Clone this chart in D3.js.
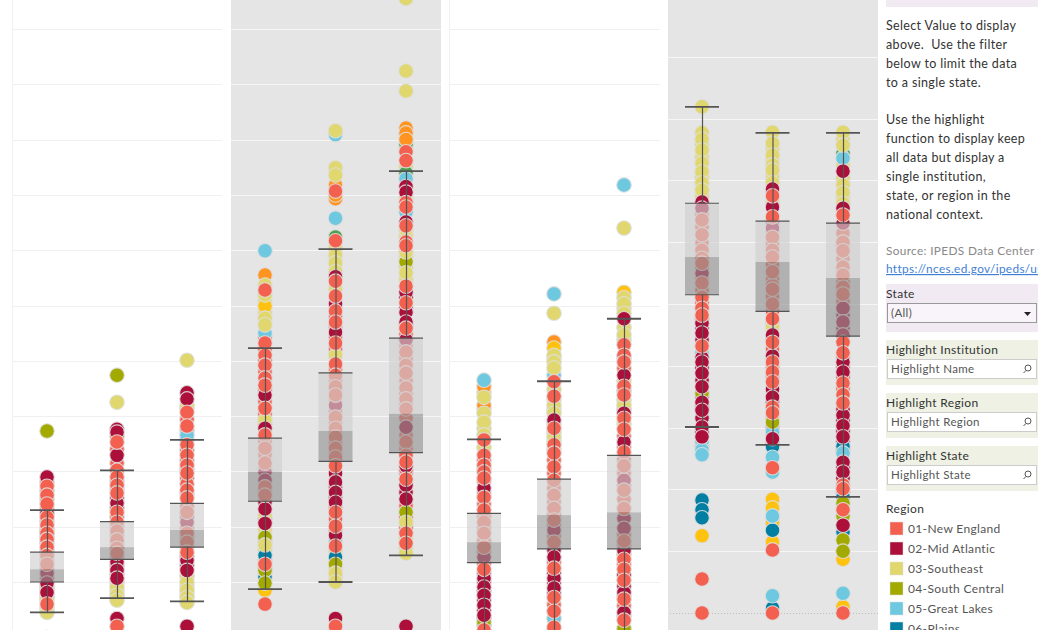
<!DOCTYPE html>
<html><head><meta charset="utf-8">
<script src="https://cdnjs.cloudflare.com/ajax/libs/d3/7.8.5/d3.min.js"></script>
<style>html,body{margin:0;padding:0;background:#fff;overflow:hidden}svg{display:block}text{font-family:Lato,"Noto Sans",sans-serif}</style>
</head><body><svg id="c" width="1050" height="630"></svg>
<script>
const regionNames=["01-New England","02-Mid Atlantic","03-Southeast","04-South Central","05-Great Lakes","06-Plains"];
const regionColors=["#F4604F","#AD0F3B","#E0D86E","#A2AA00","#6EC9E0","#007FA3","#FFC20E","#FF9421","#4E9F50"];

const values11=[37.3,29,27.3,25.7,24.1,22.4,21.7,20.3,18.8,17.7,16.3,14.8,13.2,11.6,9.8,8.1,6,4.5,7.1,8.9,0];
const regions11=[4,2,1,1,1,2,1,1,1,1,1,1,1,2,2,2,1,3,3,3,3];
const values12=[47.4,42.5,37.6,35.3,37.1,32.9,30.2,29,27.5,26.1,24.3,22.6,20.8,19.2,17.6,16.1,15.2,13.6,12.1,10.7,9.1,7.6,6.7,3.4,2];
const regions12=[4,3,2,1,2,2,1,1,1,1,2,1,1,1,1,1,1,2,2,2,3,3,3,2,1];
const values13=[50.1,44.2,43.1,42,40.7,38.2,36.6,34.8,32.9,31.1,29.7,26.6,25.2,22.6,20.8,18.8,17.2,15.4,13.9,12.1,10,8.5,7.2,6.3,2];
const regions13=[3,2,2,3,1,1,5,1,1,1,1,1,1,1,2,1,1,1,2,2,3,3,3,3,2];

const values21=[69.9,65.5,63.7,61.9,62.8,59.9,57.7,56.5,55,53.2,51,49.2,46.9,45.6,43.8,41.4,39.3,37.8,36.6,34.2,31.5,29.9,28.4,27.2,25.7,23.2,22.1,20.6,18.1,16.7,14.8,13.2,12.1,10.9,9.8,8.5,6,0];
const regions21=[5,8,3,3,1,7,3,3,5,1,1,1,1,1,2,1,3,2,1,1,1,2,2,1,1,2,3,2,4,3,6,1,4,6,4,7,1,3];
const values22=[91.6,90.9,84.9,83.6,81.8,79.3,80,80.7,75.8,72.4,71.7,69.1,67.7,66.1,65.2,64.4,61.7,60.3,59,57,55.2,53.2,51,49.4,47.4,45.3,43.8,42,39.8,37.8,36.2,34.2,32.6,31,28.1,26.2,24.4,22.6,20.1,18.5,16.5,17.4,14.5,13.2,11.6,10,3.4,2];
const regions22=[3,5,3,3,8,8,8,1,5,9,1,3,3,3,2,1,1,2,1,1,2,1,3,1,1,1,1,2,1,1,1,1,1,1,2,2,2,1,1,2,1,5,6,4,3,3,2,1];
const values23=[115.5,102.4,98.8,92.1,91.2,90,89.1,87.8,86.2,84,82.9,81.5,80.5,78.6,77.8,76.9,75.1,74.4,73.7,71.5,70.8,69.7,67.9,65.9,63.5,62.4,60.5,58.8,57,55.9,53.8,51.6,49.2,47.8,45.1,43.1,41.3,38,35.3,32.9,31.7,31,28.6,27.5,25,22.6,20.8,18.8,17,15.2,2];
const regions23=[3,3,3,8,8,8,9,1,1,9,5,2,2,1,1,5,2,1,3,1,1,3,4,3,1,2,1,2,2,1,2,1,1,1,1,1,1,2,1,1,1,2,1,2,2,4,3,1,1,3,2];

const values31=[46.5,45.3,43.4,42,40.5,38.9,36.6,35.7,32.9,31.1,29.9,28.8,27,25.3,23,20.8,18.8,16.3,14.5,12.3,10.7,9.1,7.6,5.8,4,2.7,2.2,1.3];
const regions31=[5,8,3,8,3,3,3,1,1,1,1,1,2,1,1,1,1,1,2,1,2,2,2,2,2,4,6,1];
const values32=[62.1,58.6,53.4,52.3,51,49.8,48.7,47.4,46.2,43.6,42,40.5,39.3,37.8,36.2,34.8,33.3,30.8,28.4,25.7,23.3,21.2,19.4,17.2,14.5,12.5,10.7,8.9,7.2,4.7,3.4,1.8];
const regions32=[5,3,8,7,3,3,3,5,1,1,3,3,2,1,3,1,1,1,1,1,1,1,2,1,2,1,2,2,1,1,5,1];
const values33=[81.8,74,62.4,61.4,60.3,57.6,58.6,54.7,52.9,51,49.8,47.4,45.4,43.8,42,40.5,39.6,37.6,35.3,33.5,31,28.4,26.6,23.3,19.7,17.4,15.7,14.1,12.3,10.3,8.1,6.9,4.5,3.1,1.6];
const regions33=[5,3,7,3,3,2,3,3,1,1,1,2,1,1,3,2,1,1,2,1,1,2,1,1,2,1,2,1,1,1,2,1,2,1,4];

const values41=[81.9,77.7,76.7,74.9,72.8,71.4,69.6,68.4,66.5,65.5,63.6,61.2,58.7,57.4,56.6,55,53.4,51.1,49.3,48.2,46.9,45.3,43.2,42.1,41.3,40.6,38.8,36.6,35.6,34.1,32.8,30.1,28.5,27.7,26.4,25.6,18.3,16.7,15.4,12.5,5.5,0];
const regions41=[3,3,3,3,3,3,3,3,2,2,1,1,1,1,1,2,1,1,1,1,2,2,1,5,2,2,2,2,4,2,2,2,2,5,5,5,6,6,6,7,1,1];
const values42=[77.8,76,74.1,72.5,71.7,69.6,68.6,67.5,65.7,64.1,62.3,60.8,58.7,57.6,55.2,52.4,50,47.6,46.3,45,43.8,41.6,40.6,39,37.4,34.9,33.3,32.4,30.9,29.3,28.2,26.9,25.2,22.8,23.5,18.4,17,15.7,14.6,13.4,11.5,10.2,2.8,0.8,0];
const regions42=[3,3,3,3,3,3,2,1,2,1,2,1,1,1,1,1,1,1,3,2,1,2,1,1,1,2,1,1,4,5,2,6,5,5,1,7,7,5,7,6,7,1,5,6,1];
const values43=[77.8,75.7,74.4,73.6,71.5,69.3,68,66.3,65.5,64.4,63.1,60,58.6,56,54.7,52.7,51.6,49.3,47.1,45,43.8,42.1,40.6,39,37.2,35.3,34,32,30.3,28.5,27,25.9,24.4,22.8,20.7,20.1,18.8,17.8,16.7,15.7,14.2,13.1,11.8,10,8.7,3.2,1,0];
const regions43=[3,3,9,5,2,3,3,3,2,1,2,1,1,1,1,1,1,2,2,2,1,1,2,2,1,1,1,2,2,2,6,5,2,2,1,1,6,4,1,4,2,6,4,4,7,5,7,1];

// marks that sit mostly behind the others, seen only as slivers at the column edges
const behindYellow11=[5.2,6.8,7.6,9];
const behindRed11=[28.1,26.5,24.9,23.2,21,19.5,19,18.2,17,15.5,14];
const behindCrimson11=[12.4,10.7];
const behindYellow12=[7.1,8.3,9.9];
const behindRed12=[36.3,34,31.5,28.2,26.8,21.7,20,18.4,16.8];
const behindCrimson12=[25.2,23.4,14.4,12.9,11.4];
const behindYellow13=[9.2,11,7.8];
const behindRed13=[41.4,39.4,37.4,35.7,33.8,32,30.4,28.8,27.7,25.9,23.7,19.7,18,16.3];
const behindCrimson13=[21.7,14.6,13];
const behindYellow21=[60.8,58.8,19.4,15.7,11.5];
const behindRed21=[54.2,52.1,50.1,48,44.7,42.6,40.3,38.5,35.4,33,30.6,17.4,14,12.6];
const behindCrimson21=[26.5,24.4,21.4];
const behindYellow22=[70.4,68.4,63,15.5,12.4,10.8];
const behindRed22=[58,56.1,54.2,52.1,48.4,46.4,44.6,42.9,40.9,38.8,37,35.2,33.4,31.8,23.5,21.4,19.3];
const behindCrimson22=[29.6,27.1,25.3];
const behindYellow23=[88.5,85.1,83.5,79.5,72.6,68.8,66.9,64.7,17.9,16.1];
const behindRed23=[54.8,52.7,50.4,48.5,46.4,44.1,42.2,39.6,36.6,34.1,30.3,23.8,21.7,19.8];
const behindCrimson23=[61.5,59.6,56.4,29.8,26.2];
const behindYellow31=[44.3,41.3,37.8,34.3];
const behindRed31=[32,30.5,28.2,26.1,24.1,21.9,19.8,17.5,15.4,13.4];
const behindCrimson31=[11.5,9.9,8.3,6.7,4.9,3.4];
const behindYellow32=[50.4,44.8,43,41.2,38.5,37,35.5,34];
const behindRed32=[32,29.6,27,24.5,22.2,20.3,18.3,13.5,5.9];
const behindCrimson32=[15.8,11.6,9.8,8];
const behindYellow33=[59.5,56,53.8,50.4,46.4,42.9,38.6];
const behindRed33=[48.6,44.6,41.2,36.4,34.4,32.2,29.7,27.5,25,18.5,16.6,15,13.2,7.5,5.7,3.8];
const behindCrimson33=[21.5,11.2,9.2];
const behindYellow41=[75.8,73.8,70.5,67.4];
const behindRed41=[64.5,62.4,59.9,58,55.8,54.2,52.2,50.2];
const behindCrimson41=[47.5,46.1,44.2,39.7,37.7,35.1,33.4,31.5,29.3,26.9];
const behindYellow42=[75,73.3,70.6,66.6];
const behindRed42=[61.5,59.7,56.4,54,53,51.2,48.8,46.9,44.4,42.7,39.8,38.2,31.7,30];
const behindCrimson42=[63.2,36.2,34.1,27.5];
const behindYellow43=[76.6,72.5,70.4,67.2];
const behindRed43=[61.5,59.3,57.3,55.4,53.7,50.4,41.4,39.8,38.1,36.3];
const behindCrimson43=[48.2,46,33,31.2,29.4,27.8,26.4,23.6,21.8,19.5];

// capTop, boxTop, median, boxBottom, capBottom
const stats11=[23,15.4,12.3,10,4.5];
const stats12=[30.2,20.9,16.3,14.1,7.1];
const stats13=[35.7,24.2,19.4,16.3,6.5];
const stats21=[52.3,36,29.9,24.6,8.7];
const stats22=[70.2,47.8,37.3,31.8,10];
const stats23=[84.3,54.1,40.4,33.4,14.8];
const stats31=[35.8,22.4,17.2,13.5,-2];
const stats32=[46.3,28.6,22.1,16,-2];
const stats33=[57.6,32.9,22.6,16,-2];
const stats41=[81.9,66.3,57.6,51.5,30.1];
const stats42=[77.7,63.4,56.8,48.8,27.2];
const stats43=[77.7,63.1,54.2,44.8,18.8];

const columnNames=["a","b","c"];
const gridTicks=d3.range(0,111,10);
function col(v,r,y,m,c,s){
  const front=v.map((d,k)=>({v:d,r:r[k]})).sort((a,b)=>b.r-a.r);
  const back=y.map(d=>({v:d,r:3})).concat(c.map(d=>({v:d,r:2})),m.map(d=>({v:d,r:1})));
  return {pts:back.concat(front),s};
}
const panels=[
 {px:[13,222],cx:[47,187],bg:null,grid:"#f0f0f0",y:[637.3,29],dom:[0,110],cols:[col(values11,regions11,behindYellow11,behindRed11,behindCrimson11,stats11),col(values12,regions12,behindYellow12,behindRed12,behindCrimson12,stats12),col(values13,regions13,behindYellow13,behindRed13,behindCrimson13,stats13)]},
 {px:[231,441],cx:[265,406],bg:"#e5e5e5",grid:"#f6f6f6",y:[637.3,29],dom:[0,110],cols:[col(values21,regions21,behindYellow21,behindRed21,behindCrimson21,stats21),col(values22,regions22,behindYellow22,behindRed22,behindCrimson22,stats22),col(values23,regions23,behindYellow23,behindRed23,behindCrimson23,stats23)]},
 {px:[450,660],cx:[484,624],bg:null,grid:"#f0f0f0",y:[637.3,29],dom:[0,110],cols:[col(values31,regions31,behindYellow31,behindRed31,behindCrimson31,stats31),col(values32,regions32,behindYellow32,behindRed32,behindCrimson32,stats32),col(values33,regions33,behindYellow33,behindRed33,behindCrimson33,stats33)]},
 {px:[668,878],cx:[702,843],bg:"#e5e5e5",grid:"#f6f6f6",y:[613,-5],dom:[0,100],zero:true,cols:[col(values41,regions41,behindYellow41,behindRed41,behindCrimson41,stats41),col(values42,regions42,behindYellow42,behindRed42,behindCrimson42,stats42),col(values43,regions43,behindYellow43,behindRed43,behindCrimson43,stats43)]}
];
const svg=d3.select("#c");
const color=d3.scaleOrdinal().domain(d3.range(1,10)).range(regionColors);

panels.forEach(p=>{
  const g=svg.append("g");
  const y=d3.scaleLinear().domain(p.dom).range(p.y);
  const x=d3.scalePoint().domain(columnNames).range(p.cx);
  if(p.bg) g.append("rect").attr("x",p.px[0]).attr("y",0).attr("width",p.px[1]-p.px[0]).attr("height",630).attr("fill",p.bg);
  else g.append("line").attr("x1",p.px[0]-.5).attr("x2",p.px[0]-.5).attr("y1",0).attr("y2",630).attr("stroke",p.grid);
  g.selectAll("line.g").data(gridTicks.filter(t=>t>0&&t<p.dom[1]+1)).join("line").attr("class","g")
    .attr("x1",p.px[0]).attr("x2",p.px[1]).attr("y1",d=>Math.round(y(d))+.5).attr("y2",d=>Math.round(y(d))+.5)
    .attr("stroke",p.grid).attr("stroke-width",1);
  if(p.zero) g.append("line").attr("x1",p.px[0]+2).attr("x2",p.px[1]).attr("y1",Math.round(y(0))+.5).attr("y2",Math.round(y(0))+.5)
    .attr("stroke","#bdbdbd").attr("stroke-dasharray","1 2");
  p.cols.forEach((c,i)=>{
    const cx=x(columnNames[i]);
    g.append("g").selectAll("circle").data(c.pts).join("circle")
      .attr("cx",cx).attr("cy",d=>y(d.v)).attr("r",7.3)
      .attr("fill",d=>color(d.r)).attr("stroke","#dfdfdf").attr("stroke-opacity",.9).attr("stroke-width",1.1);
  });
  p.cols.forEach((c,i)=>{
    const cx=x(columnNames[i]);const s=c.s;const hw=17;
    g.append("rect").attr("x",cx-hw).attr("width",hw*2).attr("y",y(s[1])).attr("height",y(s[2])-y(s[1]))
      .attr("fill","#d0d0d0").attr("fill-opacity",.65);
    g.append("rect").attr("x",cx-hw).attr("width",hw*2).attr("y",y(s[2])).attr("height",y(s[3])-y(s[2]))
      .attr("fill","#929292").attr("fill-opacity",.635);
    [[s[0],s[1]],[s[3],s[4]]].forEach(w=>g.append("line").attr("x1",cx+.5).attr("x2",cx+.5).attr("y1",y(w[0])).attr("y2",y(w[1])).attr("stroke","#555").attr("stroke-width",1.2));
    [s[1],s[3]].forEach(v=>g.append("line").attr("x1",cx-hw).attr("x2",cx+hw).attr("y1",y(v)).attr("y2",y(v)).attr("stroke","#555").attr("stroke-width",1.2));
    [s[0],s[4]].forEach(v=>g.append("line").attr("x1",cx-hw).attr("x2",cx+hw).attr("y1",y(v)).attr("y2",y(v)).attr("stroke","#555").attr("stroke-width",1.8));
  });
});

// sidebar
const side=svg.append("g");
const T="#333";
function txt(x,y,s,fill,size){return side.append("text").attr("x",x).attr("y",y).attr("fill",fill||T).attr("font-size",size||12.5).attr("letter-spacing",.35).text(s);}
side.append("rect").attr("x",886).attr("y",0).attr("width",152).attr("height",7).attr("fill","#f1eaf3");
const noteLines=[[30,"Select Value to display"],[49,"above.  Use the filter"],[68,"below to limit the data"],[87,"to a single state."],[124,"Use the highlight"],[143,"function to display keep"],[162,"all data but display a"],[181,"single institution,"],[200,"state, or region in the"],[219,"national context."]];
noteLines.forEach(l=>txt(886,l[0],l[1]).style("white-space","pre"));
txt(886,255,"Source: IPEDS Data Center","#888",11.8);
svg.append("defs").append("clipPath").attr("id","lc").append("rect").attr("x",880).attr("y",255).attr("width",158).attr("height",30);
txt(886,273,"https://nces.ed.gov/ipeds/use-the-data","#3f7fd6",11.8).attr("text-decoration","underline").attr("clip-path","url(#lc)");
side.append("rect").attr("x",886).attr("y",284).attr("width",152).attr("height",48).attr("fill","#f1eaf3");
txt(886,298,"State",T,12);
side.append("rect").attr("x",887.5).attr("y",303.5).attr("width",149).attr("height",19).attr("fill","#f8f4f9").attr("stroke","#999");
txt(891,317,"(All)","#555",11.5);
side.append("path").attr("d","M1024 312h7l-3.5 4z").attr("fill","#222");
[["Highlight Institution","Highlight Name",340],["Highlight Region","Highlight Region",393],["Highlight State","Highlight State",446]].forEach(f=>{
  side.append("rect").attr("x",886).attr("y",f[2]).attr("width",152).attr("height",45).attr("fill","#eef1e3");
  txt(886,f[2]+14,f[0],T,12);
  side.append("rect").attr("x",887.5).attr("y",f[2]+19.5).attr("width",149).attr("height",19).attr("fill","#fff").attr("stroke","#ccc");
  txt(891,f[2]+33,f[1],"#555",11.5);
  side.append("circle").attr("cx",1028).attr("cy",f[2]+28).attr("r",3).attr("fill","none").attr("stroke","#555");
  side.append("line").attr("x1",1026).attr("y1",f[2]+30.5).attr("x2",1023.5).attr("y2",f[2]+33).attr("stroke","#555");
});
txt(886,513,"Region",T,12);
regionNames.forEach((n,i)=>{
  const yy=522+20*i;
  side.append("rect").attr("x",890).attr("y",yy).attr("width",13).attr("height",13).attr("fill",regionColors[i]).attr("stroke","#ddd").attr("stroke-width",.5);
  txt(908,yy+11,n,"#555",12);
});
</script></body></html>
